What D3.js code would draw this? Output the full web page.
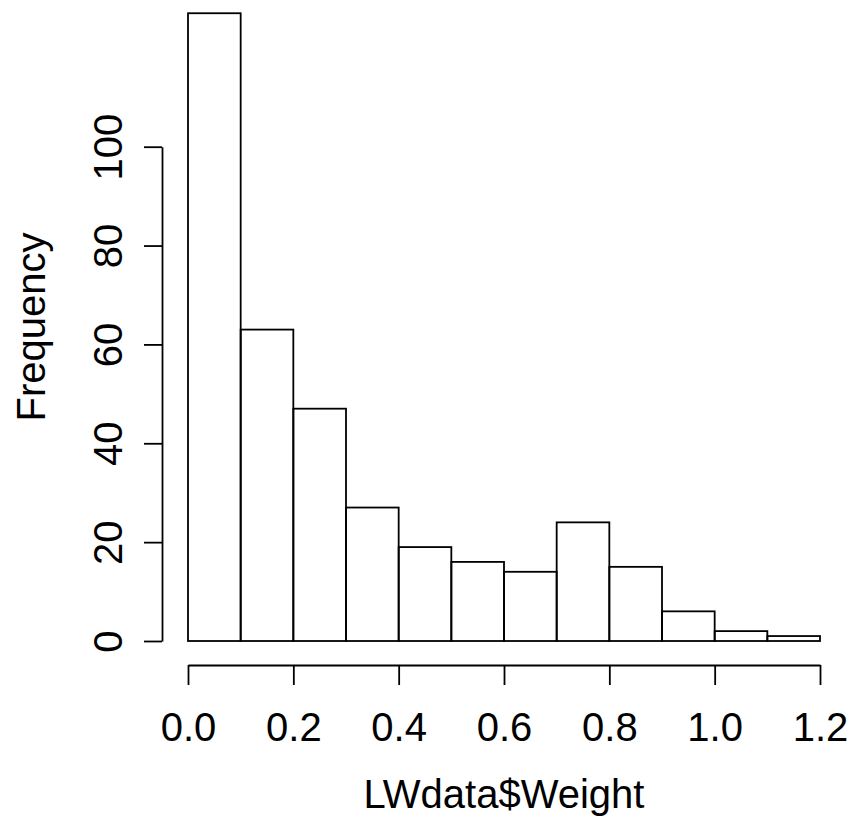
<!DOCTYPE html>
<html>
<head>
<meta charset="utf-8">
<script src="https://cdn.jsdelivr.net/npm/d3@7"></script>
<style>
  html, body { margin: 0; padding: 0; background: #fff; }
  svg { display: block; font-family: Arial, "Liberation Sans", Helvetica, sans-serif; }
</style>
</head>
<body>
<svg id="chart" width="855" height="825"></svg>
<script>
// Histogram of LWdata$Weight, bins of width 0.1
const binStarts = [0.0, 0.1, 0.2, 0.3, 0.4, 0.5, 0.6, 0.7, 0.8, 0.9, 1.0, 1.1];
const binWidth = 0.1;
const counts = [127, 63, 47, 27, 19, 16, 14, 24, 15, 6, 2, 1];
const xTicks = [0.0, 0.2, 0.4, 0.6, 0.8, 1.0, 1.2];
const yTicks = [0, 20, 40, 60, 80, 100];
const xLabel = "LWdata$Weight";
const yLabel = "Frequency";

const svg = d3.select("#chart");
const fontSize = 40;

const x = d3.scaleLinear().domain([0, 1.2]).range([188, 820]);
const y = d3.scaleLinear().domain([0, 100]).range([641, 146.7]);

// bars
svg.append("g")
  .selectAll("rect")
  .data(binStarts.map((s, i) => ({ s, c: counts[i] })))
  .join("rect")
  .attr("x", d => x(d.s))
  .attr("y", d => y(d.c))
  .attr("width", d => x(d.s + binWidth) - x(d.s))
  .attr("height", d => y(0) - y(d.c))
  .attr("fill", "none")
  .attr("stroke", "#000")
  .attr("stroke-width", 1.8);

// x axis
const gx = svg.append("g")
  .attr("transform", "translate(0,665)")
  .call(d3.axisBottom(x).tickValues(xTicks).tickFormat(d3.format(".1f"))
    .tickSize(20).tickSizeOuter(0));
gx.selectAll("path, line").attr("stroke", "#000").attr("stroke-width", 1.8);
gx.selectAll("text")
  .attr("y", 76).attr("dy", null)
  .attr("font-size", fontSize).attr("font-family", null).attr("fill", "#000");

// y axis
const gy = svg.append("g")
  .attr("transform", "translate(162,0)")
  .call(d3.axisLeft(y).tickValues(yTicks).tickSize(18).tickSizeOuter(0));
gy.selectAll("path, line").attr("stroke", "#000").attr("stroke-width", 1.8);
gy.selectAll("text")
  .attr("x", null).attr("dy", null)
  .attr("text-anchor", "middle")
  .attr("transform", "translate(-40,0) rotate(-90)")
  .attr("font-size", fontSize).attr("font-family", null).attr("fill", "#000");
gy.attr("text-anchor", null);

// axis titles
svg.append("text")
  .attr("x", 504).attr("y", 808)
  .attr("text-anchor", "middle")
  .attr("font-size", fontSize)
  .text(xLabel);

svg.append("text")
  .attr("transform", "translate(45,327) rotate(-90)")
  .attr("text-anchor", "middle")
  .attr("font-size", fontSize)
  .text(yLabel);
</script>
</body>
</html>
